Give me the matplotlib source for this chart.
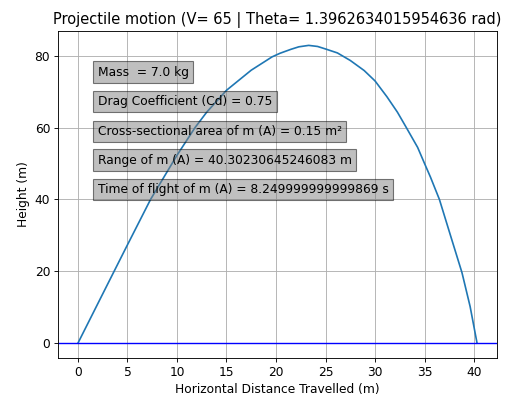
import numpy as np
import matplotlib
matplotlib.use('Agg')
import matplotlib.pyplot as plt

# ---------------------------------------------------------------------------
# Trajectory values
# ---------------------------------------------------------------------------
x_dist = [0.0, 2.5, 4.84, 7.33, 10.0, 11.82, 13.0, 15.0, 17.5, 19.6, 20.4,
          21.5, 22.3, 23.3, 24.2, 25.0, 26.2, 27.5, 28.9, 30.0, 31.2, 32.26,
          33.1, 34.3, 35.0, 35.6, 36.5, 37.66, 38.78, 39.6, 40.30]
y_height = [0.0, 13.7, 26.5, 40.0, 52.3, 60.0, 64.3, 70.4, 76.0, 79.7, 80.7,
            81.8, 82.5, 82.9, 82.6, 81.9, 80.8, 78.7, 75.9, 73.0, 68.6, 64.3,
            60.3, 54.5, 50.0, 46.2, 40.0, 29.6, 19.6, 10.2, 0.0]

info_labels = [
    'Mass  = 7.0 kg',
    'Drag Coefficient (Cd) = 0.75',
    'Cross-sectional area of m (A) = 0.15 m\u00b2',
    'Range of m (A) = 40.30230645246083 m',
    'Time of flight of m (A) = 8.249999999999869 s',
]
info_y = [75.4, 67.3, 58.9, 50.9, 42.8]

title = 'Projectile motion (V= 65 | Theta= 1.3962634015954636 rad)'

plt.rcParams.update({'font.size': 11})

# reference looks like a bigger figure shrunk down, so draw at 80 dpi
DPI = 80
fig, ax = plt.subplots(figsize=(510/DPI, 398/DPI), dpi=DPI)
fig.subplots_adjust(left=58/510, right=497/510, top=1-30.5/398, bottom=1-358/398)

ax.plot(x_dist, y_height)
ax.axhline(0, color='blue', linewidth=1.25)

for lab, yy in zip(info_labels, info_y):
    ax.text(2, yy, lab, va='center',
            bbox=dict(facecolor='gray', alpha=0.5))

ax.set_title(title)
ax.set_xlabel('Horizontal Distance Travelled (m)')
ax.set_ylabel('Height (m)')
ax.grid()

fig.savefig('out.png', dpi=DPI)
